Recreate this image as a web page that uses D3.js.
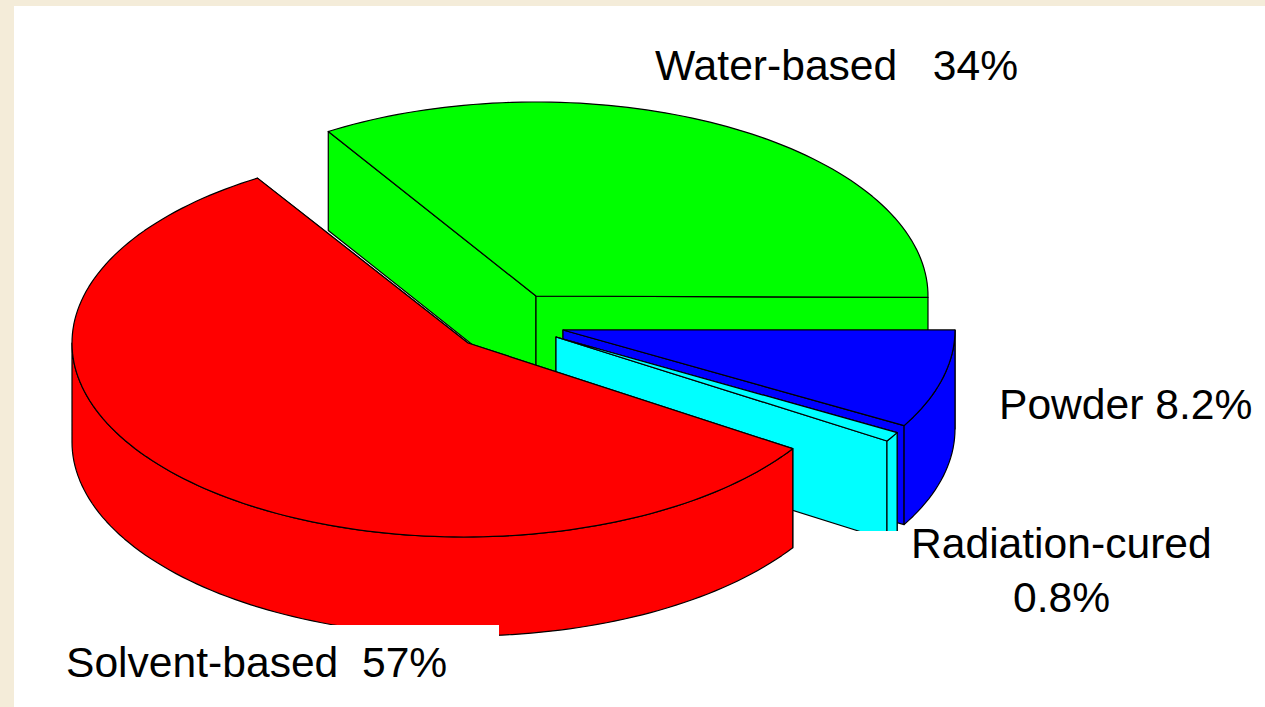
<!DOCTYPE html>
<html>
<head>
<meta charset="utf-8">
<script src="https://cdn.jsdelivr.net/npm/d3@7"></script>
<style>
    html, body { margin: 0; padding: 0; background: #f4ecd9; overflow: hidden; }
    text { font-family: "Liberation Sans", Arial, sans-serif; font-size: 42.6px; fill: #000; }
</style>
</head>
<body>
<svg id="chart" width="1265" height="707"></svg>
<script>
// Slice values, clockwise from 3 o'clock
const categories = ['Powder', 'Radiation-cured', 'Solvent-based', 'Water-based'];
const shares = [8.2, 0.8, 57, 34];
const sliceColors = ['#0000ff', '#00ffff', '#ff0000', '#00ff00'];
const drawOrder = ['Water-based', 'Powder', 'Radiation-cured', 'Solvent-based'];

// Where each slice apex sits once it is pulled out of the pie
const apexX = [563, 556, 468, 536];
const apexY = [330, 337, 343, 296];
// The pie in the original is slightly off: rim centre and turn differ a little per slice
const rimShift = [0, 0, -4, 0];
const turnDeg = [0, 0, 0.6, 0.4];

const W = 1265, H = 707;
const rx = 392, ry = 194, depth = 99;

const svg = d3.select('#chart');

// Backdrop and white panel
svg.append('rect').attr('width', W).attr('height', H).attr('fill', '#f4ecd9');
svg.append('rect').attr('x', 14).attr('y', 6).attr('width', W - 14).attr('height', H - 6).attr('fill', '#fff');

// Slice angles, d3 counts from 12 o'clock so start a quarter turn on
const pie = d3.pie().sort(null).startAngle(Math.PI / 2).endAngle(Math.PI * 2.5);
const slices = pie(shares);

// Projected rim point of a slice, lift = 0 is the top face
const rim = (i, a, lift) => [
    apexX[i] + rimShift[i] + rx * Math.sin(a),
    apexY[i] - ry * Math.cos(a) + lift
];

const line = d3.line();

function arcPoints(i, a0, a1, lift) {
    const n = Math.max(2, Math.ceil((a1 - a0) * 40));
    return d3.range(n + 1).map(k => rim(i, a0 + (a1 - a0) * k / n, lift));
}

function wall(i, a) {
    const ax = apexX[i], ay = apexY[i];
    return line([[ax, ay], rim(i, a, 0), rim(i, a, depth), [ax, ay + depth]]) + 'Z';
}

const pieG = svg.append('g')
    .attr('stroke', '#000')
    .attr('stroke-width', 1.2)
    .attr('stroke-linejoin', 'round');

drawOrder.forEach(name => {
    const i = categories.indexOf(name);
    const turn = turnDeg[i] * Math.PI / 180;
    const start = slices[i].startAngle + turn;
    const end = slices[i].endAngle + turn;
    const g = pieG.append('g').attr('fill', sliceColors[i]);

    // Cut faces
    g.append('path').attr('d', wall(i, start));
    g.append('path').attr('d', wall(i, end));

    // Outer wall, only the part facing the viewer (d3 angle between 90 and 270 deg)
    const a0 = Math.max(start, Math.PI / 2);
    const a1 = Math.min(end, Math.PI * 1.5);
    if (a1 > a0) {
        const top = arcPoints(i, a0, a1, 0);
        const bottom = arcPoints(i, a0, a1, depth).reverse();
        g.append('path').attr('d', line(top.concat(bottom)) + 'Z');
    }

    // Top face
    const topFace = [[apexX[i], apexY[i]]].concat(arcPoints(i, start, end, 0));
    g.append('path').attr('d', line(topFace) + 'Z');
});

// White boxes behind the labels cut into the pie
svg.append('rect').attr('x', 14).attr('y', 625).attr('width', 485).attr('height', 82).attr('fill', '#fff');
svg.append('rect').attr('x', 795).attr('y', 531).attr('width', 470).attr('height', 176).attr('fill', '#fff');

// Labels
const labels = [
    { text: 'Water-based   34%', x: 655, y: 80 },
    { text: 'Powder 8.2%', x: 999, y: 419 },
    { text: 'Radiation-cured', x: 911, y: 558 },
    { text: '0.8%', x: 1013, y: 612 },
    { text: 'Solvent-based  57%', x: 66, y: 677 }
];

svg.selectAll('text.label')
    .data(labels)
    .enter()
    .append('text')
    .attr('class', 'label')
    .attr('x', d => d.x)
    .attr('y', d => d.y)
    .attr('xml:space', 'preserve')
    .style('white-space', 'pre')
    .text(d => d.text);
</script>
</body>
</html>
